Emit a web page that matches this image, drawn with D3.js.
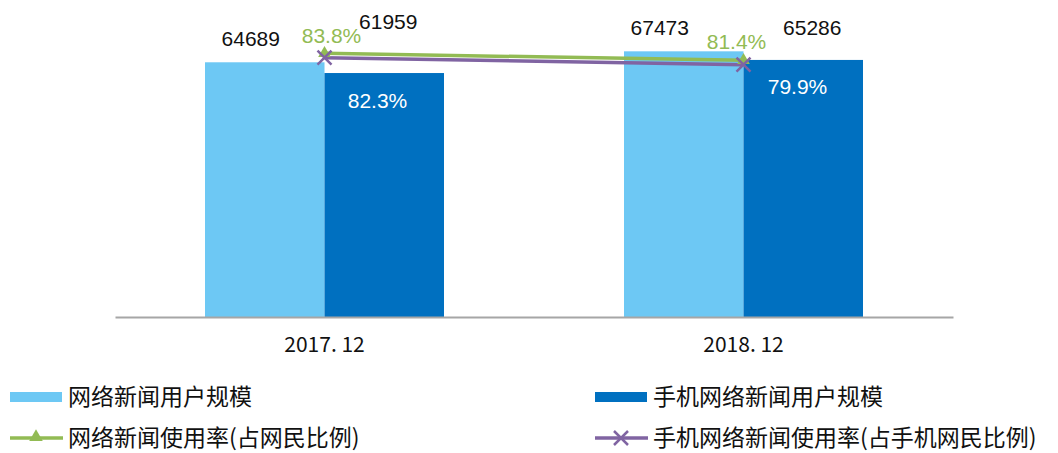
<!DOCTYPE html>
<html>
<head>
<meta charset="utf-8">
<script src="https://cdn.jsdelivr.net/npm/d3@7"></script>
<style>
  body { margin: 0; background: #fff; }
  text { font-family: "Liberation Sans", Arial, sans-serif; }
  .cjk { font-family: "Noto Sans CJK SC", sans-serif; }
</style>
</head>
<body>
<div id="chart"></div>
<script>
const svgWidth = 1058;
const svgHeight = 453;

const periods = ["2017. 12", "2018. 12"];
const newsUsers = [64689, 67473];
const mobileNewsUsers = [61959, 65286];
const newsRate = [83.8, 81.4];
const mobileNewsRate = [82.3, 79.9];
const legendLabels = ["网络新闻用户规模", "手机网络新闻用户规模", "网络新闻使用率(占网民比例)", "手机网络新闻使用率(占手机网民比例)"];

const lightBlue = "#6dc8f4";
const darkBlue = "#0070c0";
const green = "#92bb54";
const purple = "#8064a2";

// hand placed label nudges [dx, dy], like the original layout
const allLabelNudge = [[-14, -16], [-24, -16]];
const mobileLabelNudge = [[4, -44], [9, -25]];
const rateAllNudge = [[7, -10], [-7, -11]];
const rateMobileNudge = [[53, 50], [54, 29]];

const svg = d3.select("#chart")
    .append("svg")
    .attr("width", svgWidth)
    .attr("height", svgHeight);

const x0 = d3.scaleBand().domain(periods).range([115, 953]).padding(0);
const groupWidth = 239;
const x1 = d3.scaleBand().domain(["all", "mobile"]).range([0, groupWidth]);
const groupOffset = (x0.bandwidth() - groupWidth) / 2;

const y = d3.scaleLinear().domain([0, 80000]).range([317, 2]);
const yRate = d3.scaleLinear().domain([0, 100]).range([298, 6]);

const rows = periods.map((p, i) => ({
    period: p,
    all: newsUsers[i],
    mobile: mobileNewsUsers[i],
    rateAll: newsRate[i],
    rateMobile: mobileNewsRate[i]
}));

const groups = svg.selectAll(".grp")
    .data(rows)
    .enter().append("g")
    .attr("class", "grp")
    .attr("transform", d => `translate(${x0(d.period) + groupOffset},0)`);

groups.append("rect")
    .attr("x", x1("all"))
    .attr("width", x1.bandwidth())
    .attr("y", d => y(d.all))
    .attr("height", d => y(0) - y(d.all))
    .attr("fill", lightBlue);

groups.append("rect")
    .attr("x", x1("mobile"))
    .attr("width", x1.bandwidth())
    .attr("y", d => y(d.mobile))
    .attr("height", d => y(0) - y(d.mobile))
    .attr("fill", darkBlue);

// x axis
const xAxis = svg.append("g")
    .attr("transform", `translate(0,${y(0)})`)
    .call(d3.axisBottom(x0).tickSize(0).tickPadding(20));
xAxis.select(".domain").attr("stroke", "#a6a6a6").attr("stroke-width", 2);
xAxis.selectAll(".tick text")
    .attr("class", "cjk")
    .attr("font-size", 21)
    .attr("fill", "#111");

const cx = d => x0(d.period) + x0.bandwidth() / 2;

// rate lines
const lineAll = d3.line().x(cx).y(d => yRate(d.rateAll));
const lineMobile = d3.line().x(cx).y(d => yRate(d.rateMobile));

svg.append("path").datum(rows)
    .attr("d", lineAll)
    .attr("fill", "none")
    .attr("stroke", green)
    .attr("stroke-width", 3.5);

svg.append("path").datum(rows)
    .attr("d", lineMobile)
    .attr("fill", "none")
    .attr("stroke", purple)
    .attr("stroke-width", 3.5);

svg.selectAll(".tri")
    .data(rows)
    .enter().append("path")
    .attr("class", "tri")
    .attr("transform", d => `translate(${cx(d)},${yRate(d.rateAll)})`)
    .attr("d", d3.symbol(d3.symbolTriangle, 70))
    .attr("fill", green);

svg.selectAll(".cross")
    .data(rows)
    .enter().append("path")
    .attr("class", "cross")
    .attr("transform", d => `translate(${cx(d)},${yRate(d.rateMobile)})`)
    .attr("d", "M-7,-7L7,7M-7,7L7,-7")
    .attr("stroke", purple)
    .attr("stroke-width", 2.5);

// value labels
const labelSize = 21;
groups.append("text")
    .attr("x", (d, i) => x1("all") + x1.bandwidth() / 2 + allLabelNudge[i][0])
    .attr("y", (d, i) => y(d.all) + allLabelNudge[i][1])
    .attr("text-anchor", "middle")
    .attr("font-size", labelSize)
    .attr("fill", "#111")
    .text(d => d.all);

groups.append("text")
    .attr("x", (d, i) => x1("mobile") + x1.bandwidth() / 2 + mobileLabelNudge[i][0])
    .attr("y", (d, i) => y(d.mobile) + mobileLabelNudge[i][1])
    .attr("text-anchor", "middle")
    .attr("font-size", labelSize)
    .attr("fill", "#111")
    .text(d => d.mobile);

svg.selectAll(".rateAllLbl")
    .data(rows)
    .enter().append("text")
    .attr("x", (d, i) => cx(d) + rateAllNudge[i][0])
    .attr("y", (d, i) => yRate(d.rateAll) + rateAllNudge[i][1])
    .attr("text-anchor", "middle")
    .attr("font-size", labelSize)
    .attr("fill", green)
    .text(d => d.rateAll.toFixed(1) + "%");

svg.selectAll(".rateMobLbl")
    .data(rows)
    .enter().append("text")
    .attr("x", (d, i) => cx(d) + rateMobileNudge[i][0])
    .attr("y", (d, i) => yRate(d.rateMobile) + rateMobileNudge[i][1])
    .attr("text-anchor", "middle")
    .attr("font-size", labelSize)
    .attr("fill", "#fff")
    .text(d => d.rateMobile.toFixed(1) + "%");

// legend
const legend = svg.append("g").attr("class", "legend");
const legendItems = [
    { label: legendLabels[0], type: "rect", color: lightBlue, x: 10, y: 397 },
    { label: legendLabels[1], type: "rect", color: darkBlue, x: 595, y: 397 },
    { label: legendLabels[2], type: "tri", color: green, x: 10, y: 438 },
    { label: legendLabels[3], type: "cross", color: purple, x: 595, y: 438 }
];

legendItems.forEach(it => {
    const lg = legend.append("g").attr("transform", `translate(${it.x},${it.y})`);
    if (it.type === "rect") {
        lg.append("rect").attr("x", 0).attr("y", -5).attr("width", 52).attr("height", 10).attr("fill", it.color);
    } else {
        lg.append("line").attr("x1", 0).attr("x2", 53).attr("y1", 0).attr("y2", 0)
            .attr("stroke", it.color).attr("stroke-width", 3.5);
        if (it.type === "tri") {
            lg.append("path").attr("transform", "translate(26,-1)")
                .attr("d", d3.symbol(d3.symbolTriangle, 80)).attr("fill", it.color);
        } else {
            lg.append("path").attr("transform", "translate(26,0)")
                .attr("d", "M-7,-7L7,7M-7,7L7,-7")
                .attr("stroke", it.color).attr("stroke-width", 2.5);
        }
    }
    lg.append("text")
        .attr("class", "cjk")
        .attr("x", 58)
        .attr("y", 0)
        .attr("dy", "0.33em")
        .attr("font-size", 23)
        .attr("fill", "#111")
        .text(it.label);
});
</script>
</body>
</html>
